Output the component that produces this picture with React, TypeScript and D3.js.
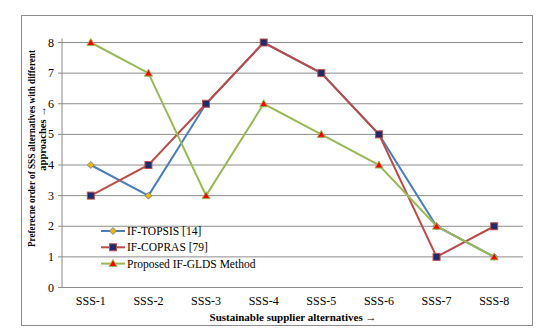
import React from 'react';
import * as d3 from 'd3';

const categories = ['SSS-1', 'SSS-2', 'SSS-3', 'SSS-4', 'SSS-5', 'SSS-6', 'SSS-7', 'SSS-8'];
const topsis = [4, 3, 6, 8, 7, 5, 2, 1];
const copras = [3, 4, 6, 8, 7, 5, 1, 2];
const glds = [8, 7, 3, 6, 5, 4, 2, 1];
const yTicks = [0, 1, 2, 3, 4, 5, 6, 7, 8];

const series = [
  { name: 'IF-TOPSIS [14]', values: topsis, color: '#4A7EBB', marker: 'diamond' },
  { name: 'IF-COPRAS [79]', values: copras, color: '#BE4B48', marker: 'square' },
  { name: 'Proposed IF-GLDS Method', values: glds, color: '#98B954', marker: 'triangle' },
];

const font = "'Liberation Serif', 'Times New Roman', serif";

function Marker({ type, x, y }) {
  if (type === 'diamond') {
    return <path d={`M${x},${y - 3.5}L${x + 3.5},${y}L${x},${y + 3.5}L${x - 3.5},${y}Z`} fill="#F5B800" stroke="#4A7EBB" strokeWidth={0.8} />;
  }
  if (type === 'square') {
    return <rect x={x - 3.5} y={y - 3.5} width={7} height={7} fill="#1F2A6B" stroke="#C0504D" strokeWidth={1} />;
  }
  return <path d={`M${x},${y - 4}L${x + 4},${y + 3}L${x - 4},${y + 3}Z`} fill="#FF0000" stroke="#98B954" strokeWidth={1} />;
}

export default function App() {
  const left = 62, right = 523, top = 42.5, bottom = 287.5;

  const x = d3.scaleBand().domain(categories).range([left, right]);
  const y = d3.scaleLinear().domain([0, 8]).range([bottom, top]);

  const line = d3
    .line<number>()
    .x((d, i) => x(categories[i]) + x.bandwidth() / 2)
    .y(d => y(d));

  return (
    <svg width={551} height={331} style={{ position: 'absolute', left: 0, top: 0, fontFamily: font }}>
      <rect x={0} y={0} width={551} height={331} fill="#fff" />
      <rect x={21.5} y={15.5} width={511} height={310} fill="none" stroke="#8C8C8C" strokeWidth={1} />

      {/* grid */}
      {yTicks.map(t => (
        <g key={t}>
          <line x1={left - 4} x2={right} y1={y(t)} y2={y(t)} stroke="#8C8C8C" strokeWidth={1} />
          <text x={54} y={y(t) + 4} fontSize={12} textAnchor="end" fill="#000">{t}</text>
        </g>
      ))}
      <line x1={left} x2={left} y1={top - 4} y2={bottom} stroke="#8C8C8C" strokeWidth={1} />

      {categories.map(c => (
        <text key={c} x={x(c) + x.bandwidth() / 2} y={305} fontSize={12} textAnchor="middle">{c}</text>
      ))}

      {series.map(s => (
        <g key={s.name}>
          <path d={line(s.values)} fill="none" stroke={s.color} strokeWidth={2} />
          {s.values.map((v, i) => (
            <Marker key={i} type={s.marker} x={x(categories[i]) + x.bandwidth() / 2} y={y(v)} />
          ))}
        </g>
      ))}

      {/* legend */}
      {series.map((s, i) => {
        const ly = 231 + i * 16.3;
        return (
          <g key={s.name}>
            <line x1={101} x2={125} y1={ly} y2={ly} stroke={s.color} strokeWidth={2} />
            <Marker type={s.marker} x={113} y={ly} />
            <text x={127} y={ly + 4} fontSize={11.5}>{s.name}</text>
          </g>
        );
      })}

      <text x={293} y={321} fontSize={11} fontWeight="bold" textAnchor="middle">Sustainable supplier  alternatives →</text>
      <text transform="translate(34.5,148.5) rotate(-90)" fontSize={10} fontWeight="bold" textAnchor="middle"
        textLength={197} lengthAdjust="spacingAndGlyphs">Preferecne order of SSS alternatives with different</text>
      <text transform="translate(45.5,138.5) rotate(-90)" fontSize={10.5} fontWeight="bold" textAnchor="middle">approaches  →</text>
    </svg>
  );
}
